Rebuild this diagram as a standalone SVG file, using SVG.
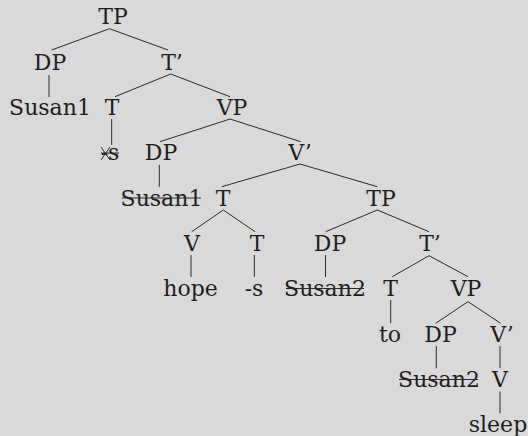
<svg xmlns="http://www.w3.org/2000/svg" width="528" height="436" viewBox="0 0 528 436">
<style>
text{font-family:"DejaVu Serif","Liberation Serif",serif;font-size:22px;fill:#1e1e1e;text-anchor:middle}
.e line,.s{stroke:#2a2a2a;stroke-width:1;fill:none}
</style>
<rect width="528" height="436" fill="#d9d9d9"/>
<g class="e" id="connectors">
<line x1="109.5" y1="28.7" x2="51.7" y2="50"/>
<line x1="109.5" y1="28.7" x2="168" y2="50"/>
<line x1="49" y1="75" x2="49" y2="97"/>
<line x1="170.7" y1="74" x2="115" y2="96.7"/>
<line x1="170.7" y1="74" x2="230" y2="96.7"/>
<line x1="111.7" y1="119" x2="111.7" y2="145"/>
<line x1="230" y1="119" x2="160" y2="141.7"/>
<line x1="230" y1="119" x2="300.7" y2="141.7"/>
<line x1="159.3" y1="165" x2="159.3" y2="186.7"/>
<line x1="300" y1="164" x2="221.7" y2="186.7"/>
<line x1="300" y1="164" x2="377.3" y2="186.7"/>
<line x1="223.3" y1="210" x2="191.7" y2="231.7"/>
<line x1="223.3" y1="210" x2="255" y2="231.7"/>
<line x1="377.3" y1="210" x2="325.7" y2="231.7"/>
<line x1="377.3" y1="210" x2="429" y2="231.7"/>
<line x1="191" y1="255" x2="191" y2="277"/>
<line x1="254.3" y1="255" x2="254.3" y2="277"/>
<line x1="325.5" y1="255" x2="325.5" y2="277"/>
<line x1="429" y1="255.7" x2="392.3" y2="276.7"/>
<line x1="429" y1="255.7" x2="468" y2="276.7"/>
<line x1="390.7" y1="300" x2="390.7" y2="323"/>
<line x1="468" y1="301.7" x2="435.7" y2="323.3"/>
<line x1="468" y1="301.7" x2="500.7" y2="323.3"/>
<line x1="436.3" y1="346" x2="436.3" y2="368.3"/>
<line x1="500" y1="346" x2="500" y2="368"/>
<line x1="500" y1="391.7" x2="500" y2="413.3"/>
</g>
<g id="n1"><text x="113" y="24">TP</text></g>
<g id="n2"><text x="50" y="70">DP</text></g>
<g id="n3"><text x="172" y="70">T’</text></g>
<g id="n4"><text x="50" y="115">Susan1</text></g>
<g id="n5"><text x="112" y="115">T</text></g>
<g id="n6"><text x="232" y="115">VP</text></g>
<g id="n7"><text x="110" y="160">-s</text><line class="s" x1="101" y1="153" x2="119" y2="153"/><line class="s" x1="101" y1="147" x2="110" y2="160"/><line class="s" x1="101" y1="160" x2="110" y2="147"/></g>
<g id="n8"><text x="161" y="160">DP</text></g>
<g id="n9"><text x="300" y="160">V’</text></g>
<g id="n10"><text x="161.5" y="205.5">Susan1</text><line class="s" x1="122" y1="198" x2="201" y2="198"/></g>
<g id="n11"><text x="223" y="205.5">T</text></g>
<g id="n12"><text x="381" y="206">TP</text></g>
<g id="n13"><text x="192" y="251">V</text></g>
<g id="n14"><text x="257" y="251">T</text></g>
<g id="n15"><text x="330" y="251">DP</text></g>
<g id="n16"><text x="430" y="251">T’</text></g>
<g id="n17"><text x="190.5" y="296">hope</text></g>
<g id="n18"><text x="254" y="296">-s</text></g>
<g id="n19"><text x="325" y="296">Susan2</text><line class="s" x1="286" y1="288.5" x2="364" y2="288.5"/></g>
<g id="n20"><text x="390.7" y="296">T</text></g>
<g id="n21"><text x="466" y="296">VP</text></g>
<g id="n22"><text x="390" y="341.5">to</text></g>
<g id="n23"><text x="440.5" y="341.5">DP</text></g>
<g id="n24"><text x="502" y="341.5">V’</text></g>
<g id="n25"><text x="439" y="387">Susan2</text><line class="s" x1="399" y1="379.5" x2="478" y2="379.5"/></g>
<g id="n26"><text x="500" y="387">V</text></g>
<g id="n27"><text x="498" y="432">sleep</text></g>
</svg>
